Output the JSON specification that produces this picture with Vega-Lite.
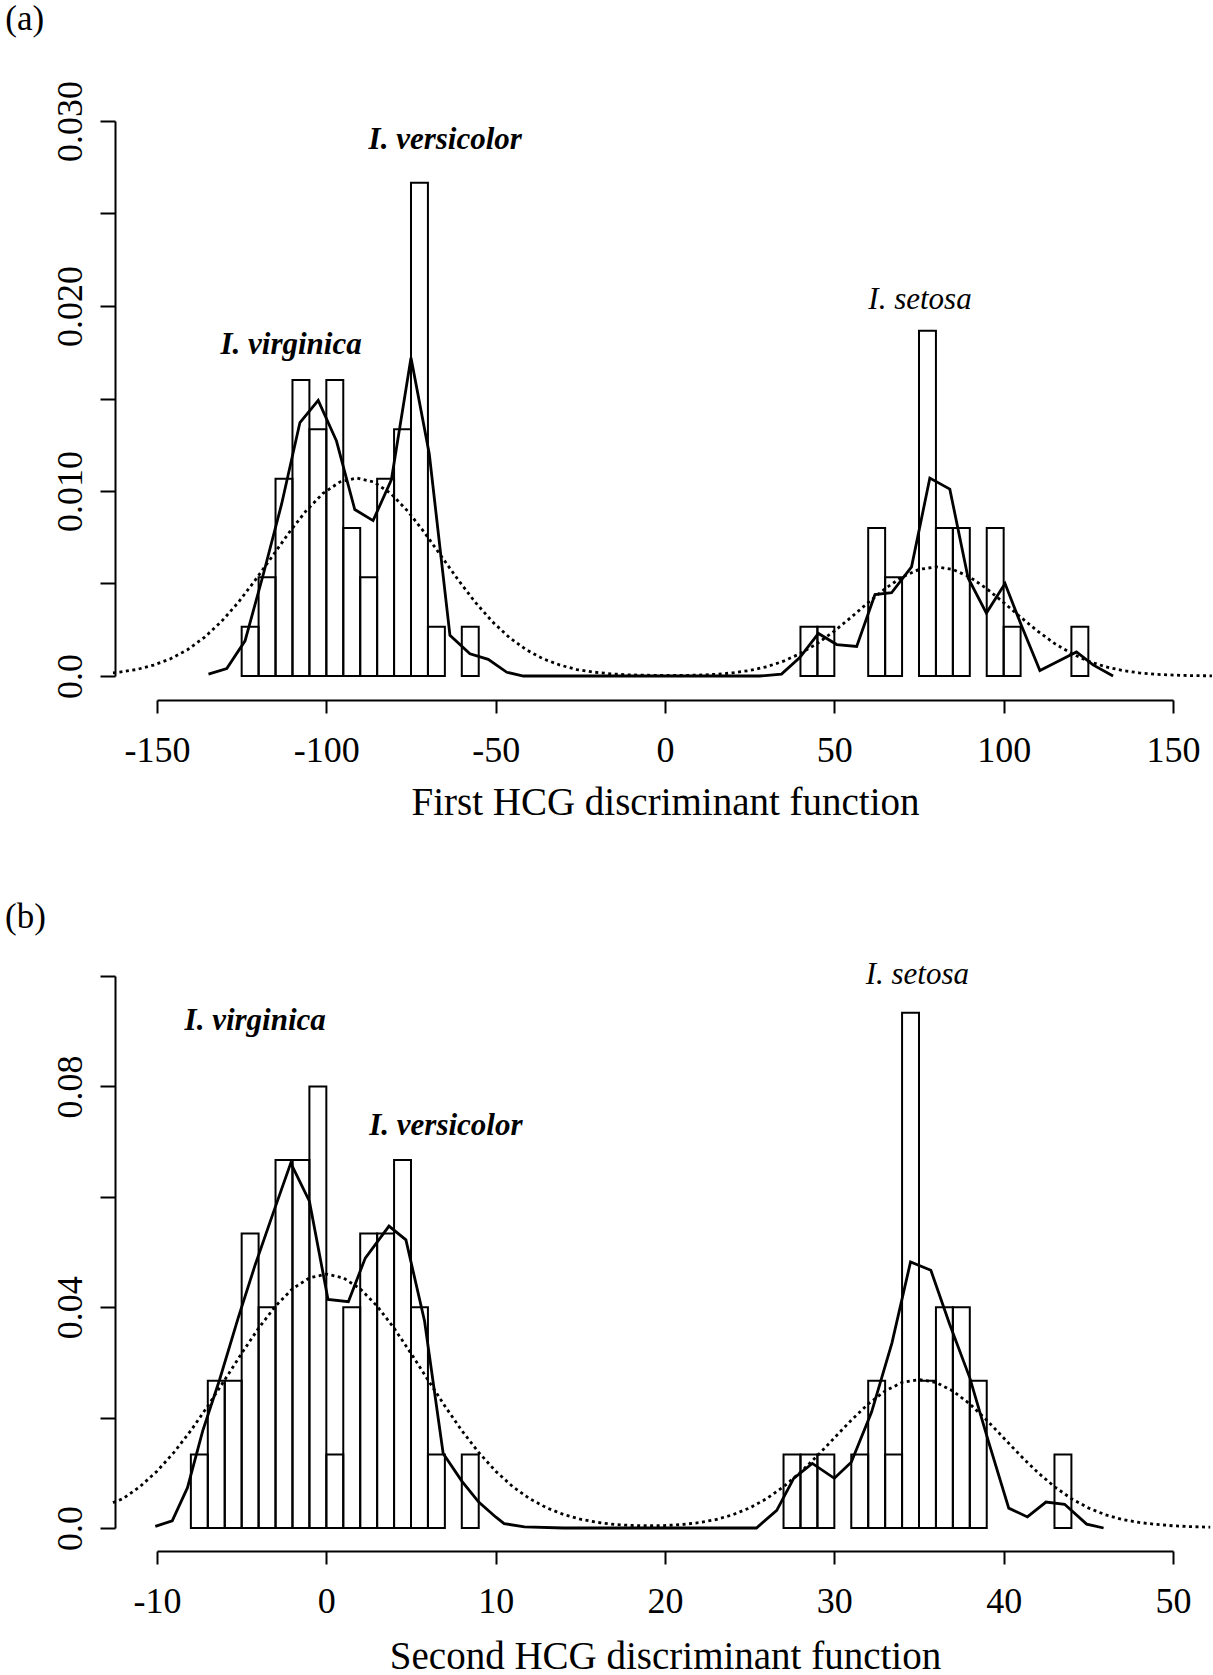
{
  "$schema": "https://vega.github.io/schema/vega-lite/v6.json",
  "padding": {"left": 5, "top": 2, "right": 0, "bottom": 0},
  "background": "white",
  "config": {
    "view": {"stroke": null},
    "axis": {
      "grid": false, "domainColor": "black", "domainWidth": 2, "tickColor": "black", "tickWidth": 2,
      "labelFont": "Liberation Serif", "labelFontSize": 36, "labelColor": "black",
      "titleFont": "Liberation Serif", "titleFontSize": 39, "titleFontWeight": "normal", "titleColor": "black",
      "labelFlush": false, "labelOverlap": false
    }
  },
  "datasets": {
    "hist_a": [
      {"x": -125, "xe": -120, "y": 0.002667}, {"x": -120, "xe": -115, "y": 0.005333},
      {"x": -115, "xe": -110, "y": 0.010667}, {"x": -110, "xe": -105, "y": 0.016},
      {"x": -105, "xe": -100, "y": 0.013333}, {"x": -100, "xe": -95, "y": 0.016},
      {"x": -95, "xe": -90, "y": 0.008}, {"x": -90, "xe": -85, "y": 0.005333},
      {"x": -85, "xe": -80, "y": 0.010667}, {"x": -80, "xe": -75, "y": 0.013333},
      {"x": -75, "xe": -70, "y": 0.026667}, {"x": -70, "xe": -65, "y": 0.002667},
      {"x": -60, "xe": -55, "y": 0.002667},
      {"x": 40, "xe": 45, "y": 0.002667}, {"x": 45, "xe": 50, "y": 0.002667},
      {"x": 60, "xe": 65, "y": 0.008}, {"x": 65, "xe": 70, "y": 0.005333},
      {"x": 75, "xe": 80, "y": 0.018667}, {"x": 80, "xe": 85, "y": 0.008},
      {"x": 85, "xe": 90, "y": 0.008}, {"x": 95, "xe": 100, "y": 0.008},
      {"x": 100, "xe": 105, "y": 0.002667}, {"x": 120, "xe": 125, "y": 0.002667}
    ],
    "kde_a": [
      {"x": -134.8, "y": 0.0001}, {"x": -129.4, "y": 0.0004}, {"x": -124.0, "y": 0.0019},
      {"x": -118.6, "y": 0.0055}, {"x": -113.2, "y": 0.0093}, {"x": -107.8, "y": 0.0137},
      {"x": -102.4, "y": 0.0149}, {"x": -97.0, "y": 0.0127}, {"x": -91.6, "y": 0.0090},
      {"x": -86.2, "y": 0.0084}, {"x": -80.8, "y": 0.0106}, {"x": -75.0, "y": 0.0172},
      {"x": -69.6, "y": 0.0120}, {"x": -63.5, "y": 0.0022}, {"x": -57.6, "y": 0.0012},
      {"x": -52.2, "y": 0.0009}, {"x": -46.7, "y": 0.0002}, {"x": -41.8, "y": 0.0},
      {"x": -20, "y": 0.0}, {"x": 0, "y": 0.0}, {"x": 20, "y": 0.0}, {"x": 28.0, "y": 0.0},
      {"x": 34.4, "y": 0.0001}, {"x": 39.8, "y": 0.0010}, {"x": 45.3, "y": 0.0023},
      {"x": 50.7, "y": 0.0017}, {"x": 56.6, "y": 0.0016}, {"x": 62.0, "y": 0.0044},
      {"x": 66.9, "y": 0.0045}, {"x": 72.8, "y": 0.0059}, {"x": 78.2, "y": 0.0107},
      {"x": 84.1, "y": 0.0101}, {"x": 89.5, "y": 0.0053}, {"x": 94.9, "y": 0.0034},
      {"x": 100.4, "y": 0.0050}, {"x": 105.3, "y": 0.0027}, {"x": 110.7, "y": 0.0003},
      {"x": 116.1, "y": 0.0008}, {"x": 121.5, "y": 0.0013}, {"x": 126.4, "y": 0.0006},
      {"x": 132.3, "y": 0.0}
    ],
    "norm_a": [
      {"x": -163, "y": 0.00017}, {"x": -161, "y": 0.00021}, {"x": -156, "y": 0.00035},
      {"x": -151, "y": 0.00059}, {"x": -146, "y": 0.00093}, {"x": -141, "y": 0.00142},
      {"x": -136, "y": 0.00209}, {"x": -131, "y": 0.00294}, {"x": -126, "y": 0.00398},
      {"x": -121, "y": 0.00518}, {"x": -116, "y": 0.00646}, {"x": -111, "y": 0.00775},
      {"x": -106, "y": 0.00892}, {"x": -101, "y": 0.00987}, {"x": -96, "y": 0.01049},
      {"x": -91, "y": 0.0107}, {"x": -86, "y": 0.01049}, {"x": -81, "y": 0.00987},
      {"x": -76, "y": 0.00892}, {"x": -71, "y": 0.00775}, {"x": -66, "y": 0.00646},
      {"x": -61, "y": 0.00518}, {"x": -56, "y": 0.00398}, {"x": -51, "y": 0.00294},
      {"x": -46, "y": 0.00209}, {"x": -41, "y": 0.00142}, {"x": -36, "y": 0.00093},
      {"x": -31, "y": 0.00059}, {"x": -26, "y": 0.00035}, {"x": -21, "y": 0.00021},
      {"x": -16, "y": 0.00012}, {"x": -11, "y": 0.00006}, {"x": -5, "y": 0.00004},
      {"x": 0, "y": 0.00003}, {"x": 5, "y": 0.00003}, {"x": 10, "y": 0.00005},
      {"x": 15, "y": 0.00009}, {"x": 20, "y": 0.00017}, {"x": 25, "y": 0.0003},
      {"x": 30, "y": 0.0005}, {"x": 35, "y": 0.0008}, {"x": 40, "y": 0.00122},
      {"x": 45, "y": 0.00176}, {"x": 50, "y": 0.00243}, {"x": 55, "y": 0.00318},
      {"x": 60, "y": 0.00397}, {"x": 65, "y": 0.00472}, {"x": 70, "y": 0.00535},
      {"x": 75, "y": 0.00576}, {"x": 80, "y": 0.0059}, {"x": 85, "y": 0.00576},
      {"x": 90, "y": 0.00535}, {"x": 95, "y": 0.00472}, {"x": 100, "y": 0.00397},
      {"x": 105, "y": 0.00318}, {"x": 110, "y": 0.00243}, {"x": 115, "y": 0.00176},
      {"x": 120, "y": 0.00122}, {"x": 125, "y": 0.0008}, {"x": 130, "y": 0.0005},
      {"x": 135, "y": 0.0003}, {"x": 140, "y": 0.00017}, {"x": 145, "y": 0.00009},
      {"x": 150, "y": 0.00005}, {"x": 155, "y": 0.00002}, {"x": 161.5, "y": 0.00001}
    ],
    "lab_a": [
      {"x": -64.9, "y": 0.0290, "label": "I. versicolor"},
      {"x": -110.4, "y": 0.0179, "label": "I. virginica"},
      {"x": 75.3, "y": 0.0203, "label": "I. setosa"}
    ],
    "tag_a": [{"x": -194.8, "y": 0.0355, "label": "(a)"}],
    "hist_b": [
      {"x": -8, "xe": -7, "y": 0.013333}, {"x": -7, "xe": -6, "y": 0.026667},
      {"x": -6, "xe": -5, "y": 0.026667}, {"x": -5, "xe": -4, "y": 0.053333},
      {"x": -4, "xe": -3, "y": 0.04}, {"x": -3, "xe": -2, "y": 0.066667},
      {"x": -2, "xe": -1, "y": 0.066667}, {"x": -1, "xe": 0, "y": 0.08},
      {"x": 0, "xe": 1, "y": 0.013333}, {"x": 1, "xe": 2, "y": 0.04},
      {"x": 2, "xe": 3, "y": 0.053333}, {"x": 3, "xe": 4, "y": 0.053333},
      {"x": 4, "xe": 5, "y": 0.066667}, {"x": 5, "xe": 6, "y": 0.04},
      {"x": 6, "xe": 7, "y": 0.013333}, {"x": 8, "xe": 9, "y": 0.013333},
      {"x": 27, "xe": 28, "y": 0.013333}, {"x": 28, "xe": 29, "y": 0.013333},
      {"x": 29, "xe": 30, "y": 0.013333}, {"x": 31, "xe": 32, "y": 0.013333},
      {"x": 32, "xe": 33, "y": 0.026667}, {"x": 33, "xe": 34, "y": 0.013333},
      {"x": 34, "xe": 35, "y": 0.093333}, {"x": 35, "xe": 36, "y": 0.026667},
      {"x": 36, "xe": 37, "y": 0.04}, {"x": 37, "xe": 38, "y": 0.04},
      {"x": 38, "xe": 39, "y": 0.026667}, {"x": 43, "xe": 44, "y": 0.013333}
    ],
    "kde_b": [
      {"x": -10.1, "y": 0.0003}, {"x": -9.1, "y": 0.0013}, {"x": -8.2, "y": 0.0073},
      {"x": -7.3, "y": 0.0176}, {"x": -6.3, "y": 0.0269}, {"x": -5.2, "y": 0.0381},
      {"x": -4.2, "y": 0.0477}, {"x": -3.1, "y": 0.0574}, {"x": -2.1, "y": 0.0661},
      {"x": -1.0, "y": 0.0592}, {"x": 0.1, "y": 0.0414}, {"x": 1.3, "y": 0.0410},
      {"x": 2.3, "y": 0.0489}, {"x": 3.7, "y": 0.0547}, {"x": 4.7, "y": 0.0522},
      {"x": 5.8, "y": 0.0375}, {"x": 6.9, "y": 0.0135}, {"x": 8.0, "y": 0.0085},
      {"x": 9.0, "y": 0.0047}, {"x": 10.0, "y": 0.0020}, {"x": 10.5, "y": 0.0008},
      {"x": 11.7, "y": 0.0002}, {"x": 14, "y": 0.0}, {"x": 18, "y": 0.0},
      {"x": 22, "y": 0.0}, {"x": 25.4, "y": 0.0}, {"x": 26.6, "y": 0.0032},
      {"x": 27.6, "y": 0.0090}, {"x": 28.7, "y": 0.0117}, {"x": 30.0, "y": 0.0090},
      {"x": 31.0, "y": 0.0119}, {"x": 32.2, "y": 0.0210}, {"x": 33.4, "y": 0.0335},
      {"x": 34.5, "y": 0.0482}, {"x": 35.7, "y": 0.0467}, {"x": 36.8, "y": 0.0370},
      {"x": 38.0, "y": 0.0272}, {"x": 39.1, "y": 0.0157}, {"x": 40.3, "y": 0.0036},
      {"x": 41.4, "y": 0.0020}, {"x": 42.5, "y": 0.0047}, {"x": 43.6, "y": 0.0043},
      {"x": 44.9, "y": 0.0007}, {"x": 45.9, "y": 0.0}
    ],
    "norm_b": [
      {"x": -12.6, "y": 0.0046}, {"x": -12, "y": 0.00533}, {"x": -11, "y": 0.00752},
      {"x": -10, "y": 0.01029}, {"x": -9, "y": 0.01369}, {"x": -8, "y": 0.01765},
      {"x": -7, "y": 0.02209}, {"x": -6, "y": 0.02684}, {"x": -5, "y": 0.03164},
      {"x": -4, "y": 0.0362}, {"x": -3, "y": 0.0402}, {"x": -2, "y": 0.04333},
      {"x": -1, "y": 0.04532}, {"x": 0, "y": 0.046}, {"x": 1, "y": 0.04532},
      {"x": 2, "y": 0.04333}, {"x": 3, "y": 0.0402}, {"x": 4, "y": 0.0362},
      {"x": 5, "y": 0.03164}, {"x": 6, "y": 0.02684}, {"x": 7, "y": 0.02209},
      {"x": 8, "y": 0.01765}, {"x": 9, "y": 0.01369}, {"x": 10, "y": 0.01029},
      {"x": 11, "y": 0.00752}, {"x": 12, "y": 0.00533}, {"x": 13, "y": 0.00367},
      {"x": 14, "y": 0.00245}, {"x": 15, "y": 0.00159}, {"x": 16, "y": 0.00102},
      {"x": 17, "y": 0.00065}, {"x": 18, "y": 0.00046}, {"x": 19, "y": 0.0004},
      {"x": 20, "y": 0.00045}, {"x": 21, "y": 0.00062}, {"x": 22, "y": 0.00097},
      {"x": 23, "y": 0.00153}, {"x": 24, "y": 0.0024}, {"x": 25, "y": 0.00364},
      {"x": 26, "y": 0.00532}, {"x": 27, "y": 0.00748}, {"x": 28, "y": 0.0101},
      {"x": 29, "y": 0.01309}, {"x": 30, "y": 0.01632}, {"x": 31, "y": 0.01953},
      {"x": 32, "y": 0.02247}, {"x": 33, "y": 0.02483}, {"x": 34, "y": 0.02637},
      {"x": 35, "y": 0.0269}, {"x": 36, "y": 0.02637}, {"x": 37, "y": 0.02483},
      {"x": 38, "y": 0.02247}, {"x": 39, "y": 0.01953}, {"x": 40, "y": 0.01632},
      {"x": 41, "y": 0.01309}, {"x": 42, "y": 0.0101}, {"x": 43, "y": 0.00748},
      {"x": 44, "y": 0.00532}, {"x": 45, "y": 0.00364}, {"x": 46, "y": 0.0024},
      {"x": 47, "y": 0.00155}, {"x": 48, "y": 0.001}, {"x": 49, "y": 0.00065},
      {"x": 50, "y": 0.0004}, {"x": 51, "y": 0.00025}, {"x": 52.2, "y": 0.00015}
    ],
    "lab_b": [
      {"x": -4.2, "y": 0.0919, "label": "I. virginica"},
      {"x": 7.06, "y": 0.0728, "label": "I. versicolor"},
      {"x": 34.9, "y": 0.1001, "label": "I. setosa"}
    ],
    "tag_b": [{"x": -18.97, "y": 0.1106, "label": "(b)"}]
  },
  "vconcat": [
    {
      "width": 1016, "height": 555,
      "encoding": {
        "x": {"field": "x", "type": "quantitative", "scale": {"domain": [-150, 150], "nice": false, "zero": false},
          "axis": {"values": [-150, -100, -50, 0, 50, 100, 150], "title": "First HCG discriminant function",
            "offset": 24, "tickSize": 13, "labelPadding": 20, "titlePadding": 15,
            "labelExpr": "datum.value < 0 ? '-' + abs(datum.value) : '' + datum.value"}},
        "y": {"field": "y", "type": "quantitative", "scale": {"domain": [0, 0.03], "nice": false},
          "axis": {"values": [0, 0.005, 0.01, 0.015, 0.02, 0.025, 0.03], "title": null, "offset": 42, "tickSize": 15,
            "labelAngle": 270, "labelAlign": "center", "labelBaseline": "bottom", "labelPadding": 11,
            "labelExpr": "datum.value == 0 ? '0.0' : (round(datum.value * 1000) % 10 == 0 ? format(datum.value, '.3f') : '')"}}
      },
      "layer": [
        {
          "data": {"name": "hist_a"},
          "mark": {"type": "rect", "filled": false, "color": "black", "strokeWidth": 2},
          "encoding": {"x2": {"field": "xe"}, "y2": {"datum": 0}}
        },
        {
          "data": {"name": "norm_a"},
          "mark": {"type": "line", "color": "black", "strokeWidth": 2.8, "strokeDash": [3, 3.5]}
        },
        {
          "data": {"name": "kde_a"},
          "mark": {"type": "line", "color": "black", "strokeWidth": 2.8}
        },
        {
          "data": {"name": "lab_a"},
          "transform": [{"filter": "datum.label != 'I. setosa'"}],
          "mark": {"type": "text", "font": "Liberation Serif", "fontSize": 31, "fontStyle": "italic", "fontWeight": "bold", "color": "black", "baseline": "middle"},
          "encoding": {"text": {"field": "label"}}
        },
        {
          "data": {"name": "lab_a"},
          "transform": [{"filter": "datum.label == 'I. setosa'"}],
          "mark": {"type": "text", "font": "Liberation Serif", "fontSize": 31, "fontStyle": "italic", "fontWeight": "normal", "color": "black", "baseline": "middle"},
          "encoding": {"text": {"field": "label"}}
        },
        {
          "data": {"name": "tag_a"},
          "mark": {"type": "text", "font": "Liberation Serif", "fontSize": 35, "color": "black", "align": "left", "baseline": "middle"},
          "encoding": {"text": {"field": "label"}}
        }
      ]
    },
    {
      "width": 1016, "height": 552,
      "encoding": {
        "x": {"field": "x", "type": "quantitative", "scale": {"domain": [-10, 50], "nice": false, "zero": false},
          "axis": {"values": [-10, 0, 10, 20, 30, 40, 50], "title": "Second HCG discriminant function",
            "offset": 23, "tickSize": 13, "labelPadding": 20, "titlePadding": 18,
            "labelExpr": "datum.value < 0 ? '-' + abs(datum.value) : '' + datum.value"}},
        "y": {"field": "y", "type": "quantitative", "scale": {"domain": [0, 0.1], "nice": false},
          "axis": {"values": [0, 0.02, 0.04, 0.06, 0.08, 0.1], "title": null, "offset": 42, "tickSize": 15,
            "labelAngle": 270, "labelAlign": "center", "labelBaseline": "bottom", "labelPadding": 11,
            "labelExpr": "datum.value == 0 ? '0.0' : (round(datum.value * 100) % 4 == 0 ? format(datum.value, '.2f') : '')"}}
      },
      "layer": [
        {
          "data": {"name": "hist_b"},
          "mark": {"type": "rect", "filled": false, "color": "black", "strokeWidth": 2},
          "encoding": {"x2": {"field": "xe"}, "y2": {"datum": 0}}
        },
        {
          "data": {"name": "norm_b"},
          "mark": {"type": "line", "color": "black", "strokeWidth": 2.8, "strokeDash": [3, 3.5]}
        },
        {
          "data": {"name": "kde_b"},
          "mark": {"type": "line", "color": "black", "strokeWidth": 2.8}
        },
        {
          "data": {"name": "lab_b"},
          "transform": [{"filter": "datum.label != 'I. setosa'"}],
          "mark": {"type": "text", "font": "Liberation Serif", "fontSize": 31, "fontStyle": "italic", "fontWeight": "bold", "color": "black", "baseline": "middle"},
          "encoding": {"text": {"field": "label"}}
        },
        {
          "data": {"name": "lab_b"},
          "transform": [{"filter": "datum.label == 'I. setosa'"}],
          "mark": {"type": "text", "font": "Liberation Serif", "fontSize": 31, "fontStyle": "italic", "fontWeight": "normal", "color": "black", "baseline": "middle"},
          "encoding": {"text": {"field": "label"}}
        },
        {
          "data": {"name": "tag_b"},
          "mark": {"type": "text", "font": "Liberation Serif", "fontSize": 35, "color": "black", "align": "left", "baseline": "middle"},
          "encoding": {"text": {"field": "label"}}
        }
      ]
    }
  ],
  "spacing": 300,
  "bounds": "flush"
}
